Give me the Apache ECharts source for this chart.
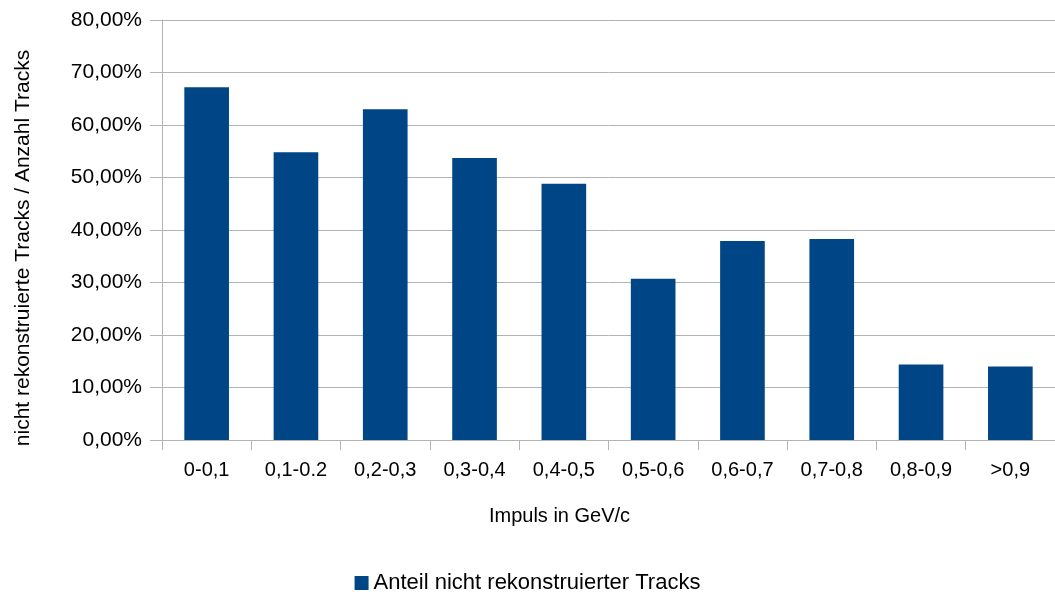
<!DOCTYPE html>
<html>
<head>
<meta charset="utf-8">
<script src="https://cdn.jsdelivr.net/npm/echarts@6/dist/echarts.min.js"></script>
<style>
  html, body { margin: 0; padding: 0; background: #fff; }
  #chart { width: 1055px; height: 599px; }
</style>
</head>
<body>
<div id="chart"></div>
<script>
// Momentum bins (GeV/c)
const categories = ['0-0,1', '0,1-0.2', '0,2-0,3', '0,3-0,4', '0,4-0,5', '0,5-0,6', '0,6-0,7', '0,7-0,8', '0,8-0,9', '>0,9'];
// Share of non-reconstructed tracks, in percent
const anteilValues = [67.2, 54.8, 63.0, 53.7, 48.8, 30.7, 37.9, 38.3, 14.4, 14.0];
const seriesName = 'Anteil nicht rekonstruierter Tracks';
const xAxisTitle = 'Impuls in GeV/c';
const yAxisTitle = 'nicht rekonstruierte Tracks / Anzahl Tracks';

const font = '"Liberation Sans", Arial, sans-serif';
const gridColor = '#b3b3b3';

const chart = echarts.init(document.getElementById('chart'));
chart.setOption({
  animation: false,
  textStyle: { fontFamily: font, color: '#000' },
  grid: { left: 162, top: 20, bottom: 159, width: 898, containLabel: false },
  xAxis: {
    type: 'category',
    data: categories,
    name: xAxisTitle,
    nameLocation: 'middle',
    nameGap: 66,
    nameTextStyle: { fontFamily: font, fontSize: 20, color: '#000', padding: [0, 98, 0, 0] },
    axisLine: { lineStyle: { color: gridColor, width: 1 } },
    axisTick: { show: true, length: 10, alignWithLabel: false, lineStyle: { color: gridColor } },
    axisLabel: { fontFamily: font, fontSize: 20, color: '#000', margin: 20, interval: 0 },
    splitLine: { show: false }
  },
  yAxis: {
    type: 'value',
    min: 0,
    max: 80,
    interval: 10,
    name: yAxisTitle,
    nameLocation: 'middle',
    nameGap: 128,
    nameRotate: 90,
    nameTextStyle: { fontFamily: font, fontSize: 21, color: '#000', padding: [0, 36, 0, 0] },
    axisLine: { show: true, lineStyle: { color: gridColor, width: 1 } },
    axisTick: { show: true, length: 12, lineStyle: { color: gridColor } },
    axisLabel: {
      fontFamily: font, fontSize: 21, color: '#000', margin: 20,
      formatter: v => v.toFixed(2).replace('.', ',') + '%'
    },
    splitLine: { show: true, lineStyle: { color: gridColor, width: 1 } }
  },
  legend: {
    data: [seriesName],
    bottom: 0,
    left: 'center',
    itemWidth: 14,
    itemHeight: 14,
    itemGap: 8,
    icon: 'rect',
    textStyle: { fontFamily: font, fontSize: 22, color: '#000' }
  },
  series: [{
    name: seriesName,
    type: 'bar',
    data: anteilValues,
    barWidth: '50%',
    itemStyle: { color: '#004586' }
  }]
});
</script>
</body>
</html>
